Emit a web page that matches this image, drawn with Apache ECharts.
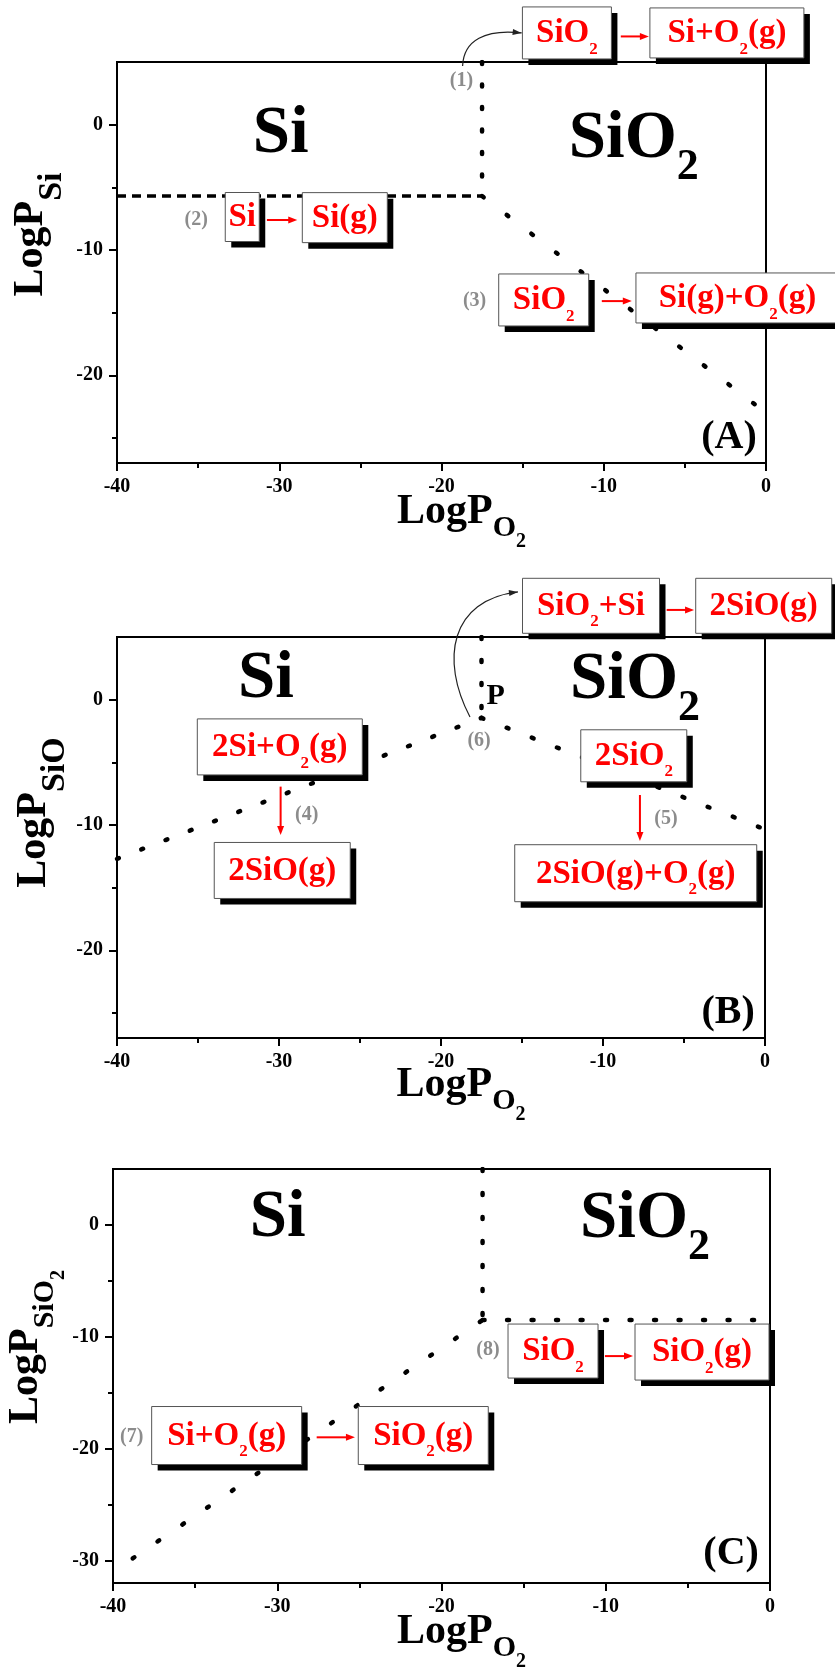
<!DOCTYPE html>
<html>
<head>
<meta charset="utf-8">
<script src="https://cdn.jsdelivr.net/npm/echarts@6/dist/echarts.min.js"></script>
<style>
  html, body { margin: 0; padding: 0; background: #fff; }
  #chart { width: 835px; height: 1670px; }
</style>
</head>
<body>
<div id="chart"></div>
<script>
// ---- data (LogP_O2, LogP_x) ----
const yMajorAB = [-20, -10, 0];
const yMinorAB = [-25, -15, -5];
const yMajorC = [-30, -20, -10, 0];
const yMinorC = [-25, -15, -5];
const yMins = [-27, -27, -32];

// (A) Si - O2 : LogP_Si
const siO2BoundaryA = [[-17.5, 5], [-17.5, -5.7]];
const siGasA = [[-40, -5.7], [-17.5, -5.7]];
const sio2GasA = [[-17.5, -5.7], [0, -23]];

// (B) LogP_SiO
const siToSioB = [[-40, -12.7], [-17.5, -1.45]];
const sio2ToSioB = [[-17.5, -1.45], [0, -10.35]];
const siO2BoundaryB = [[-17.5, 5], [-17.5, -1.45]];

// (C) LogP_SiO2
const siO2BoundaryC = [[-17.5, 5], [-17.5, -8.5]];
const sio2GasC = [[-17.5, -8.5], [0, -8.5]];
const siToSio2C = [[-38.8, -29.8], [-17.5, -8.5]];

// reaction boxes: panel, data position of centre, text
const boxes = [
  { g: 0, at: [-12.27, 7.32], w: 89, h: 52, t: '{m|SiO}{s|2}' },
  { g: 0, at: [-2.41, 7.32], w: 154, h: 50, t: '{m|Si+O}{s|2}{m|(g)}' },
  { g: 0, at: [-32.28, -7.37], w: 34, h: 49, t: '{m|Si}' },
  { g: 0, at: [-25.96, -7.42], w: 85, h: 50, t: '{m|Si(g)}' },
  { g: 0, at: [-13.70, -13.99], w: 90, h: 52, t: '{m|SiO}{s|2}' },
  { g: 0, at: [-1.76, -13.83], w: 203, h: 50, t: '{m|Si(g)+O}{s|2}{m|(g)}' },
  { g: 1, at: [-10.74, 7.49], w: 137, h: 55, t: '{m|SiO}{s|2}{m|+Si}' },
  { g: 1, at: [-0.08, 7.49], w: 136, h: 55, t: '{m|2SiO(g)}' },
  { g: 1, at: [-29.95, -3.77], w: 165, h: 56, t: '{m|2Si+O}{s|2}{m|(g)}' },
  { g: 1, at: [-29.80, -13.63], w: 136, h: 56, t: '{m|2SiO(g)}' },
  { g: 1, at: [-8.10, -4.48], w: 106, h: 52, t: '{m|2SiO}{s|2}' },
  { g: 1, at: [-7.98, -13.85], w: 242, h: 57, t: '{m|2SiO(g)+O}{s|2}{m|(g)}' },
  { g: 2, at: [-33.08, -18.82], w: 150, h: 58, t: '{m|Si+O}{s|2}{m|(g)}' },
  { g: 2, at: [-21.11, -18.82], w: 130, h: 58, t: '{m|SiO}{s|2}{m|(g)}' },
  { g: 2, at: [-13.21, -11.27], w: 90, h: 54, t: '{m|SiO}{s|2}' },
  { g: 2, at: [-4.14, -11.36], w: 134, h: 56, t: '{m|SiO}{s|2}{m|(g)}' }
];

// red reaction arrows: panel, from, to
const redArrows = [
  { g: 0, from: [-8.95, 7.04], to: [-7.22, 7.04] },
  { g: 0, from: [-30.76, -7.61], to: [-28.89, -7.61] },
  { g: 0, from: [-10.12, -14.08], to: [-8.27, -14.08] },
  { g: 1, from: [-6.07, 7.16], to: [-4.38, 7.16] },
  { g: 1, from: [-29.9, -6.94], to: [-29.9, -10.8] },
  { g: 1, from: [-7.72, -7.61], to: [-7.72, -11.28] },
  { g: 2, from: [-27.6, -18.98], to: [-25.27, -18.98] },
  { g: 2, from: [-10.05, -11.72], to: [-8.34, -11.72] }
];

// reaction numbers
const tags = [
  { g: 0, at: [-18.77, 3.49], t: '(1)' },
  { g: 0, at: [-35.12, -7.61], t: '(2)' },
  { g: 0, at: [-17.96, -14.08], t: '(3)' },
  { g: 1, at: [-28.29, -9.2], t: '(4)' },
  { g: 1, at: [-6.11, -9.52], t: '(5)' },
  { g: 1, at: [-17.65, -3.3], t: '(6)' },
  { g: 2, at: [-38.86, -18.95], t: '(7)' },
  { g: 2, at: [-17.17, -11.18], t: '(8)' }
];

// curved pointers from a reaction number to its box (start, ctrl1, ctrl2, end)
const curves = [
  { g: 0, pts: [[-18.70, 4.68], [-18.64, 6.76], [-17.28, 7.64], [-15.06, 7.32]] },
  { g: 1, pts: [[-18.21, -1.38], [-20.06, 3.17], [-19.44, 7.96], [-15.25, 8.6]] }
];

// phase field names: centre x, baseline y
const phaseLabels = [
  { g: 0, at: [-29.91, -2.58], t: '{m|Si}' },
  { g: 0, at: [-8.15, -3.01], t: '{m|SiO}{s|2}' },
  { g: 1, at: [-30.8, -0.26], t: '{m|Si}' },
  { g: 1, at: [-8.02, -0.29], t: '{m|SiO}{s|2}' },
  { g: 2, at: [-29.98, -1.5], t: '{m|Si}' },
  { g: 2, at: [-7.61, -1.55], t: '{m|SiO}{s|2}' }
];
const pointP = { g: 1, at: [-16.62, 0.3], t: 'P' };
const panelNames = [
  { g: 0, at: [-2.28, -25.0], t: '(A)' },
  { g: 1, at: [-2.28, -25.0], t: '(B)' },
  { g: 2, at: [-2.37, -29.41], t: '(C)' }
];

const yTitles = ['{m|LogP}{s|Si}', '{m|LogP}{s|SiO}', '{m|LogP}{c|SiO}{cc|2}'];

// ---- styling ----
const FONT = '"Liberation Serif", "Times New Roman", Times, serif';
const RED = '#ff0000';

function tok(size, pad, color) {
  return {
    fontSize: size, lineHeight: size, fontFamily: FONT, fontWeight: 'bold',
    color: color, fill: color, verticalAlign: 'top', padding: [pad, 0, 0, 0]
  };
}
// rich text with sub / sub-sub scripts; d1, d2 = baseline drop in px
function rich(main, sub, subsub, d1, d2, color) {
  return {
    m: tok(main, 0, color),
    s: tok(sub, 0.84 * (main - sub) + d1, color),
    ss: tok(subsub, 0.84 * (main - subsub) + d2, color)
  };
}

const gridBoxes = [
  { left: 117, top: 62, width: 649, height: 401 },
  { left: 117, top: 637, width: 648, height: 401 },
  { left: 113, top: 1169, width: 657, height: 414 }
];
const frame = {
  show: true, borderColor: '#000', borderWidth: 2, backgroundColor: 'transparent',
  containLabel: false, outerBoundsMode: 'none'
};
// grids 0-2 carry the plots, grids 3-5 sit on top and only carry minor y ticks
const grids = gridBoxes.map(g => Object.assign({}, g, frame))
  .concat(gridBoxes.map(g => Object.assign({}, g, { show: false, containLabel: false, outerBoundsMode: 'none' })));

const xNameGap = [28, 26, 28];
const yMajor = [yMajorAB, yMajorAB, yMajorC];
const yMinor = [yMinorAB, yMinorAB, yMinorC];

const axisLineStyle = { color: '#000', width: 2 };
const tickLabel = { color: '#000', fontFamily: FONT, fontWeight: 'bold', fontSize: 20 };

const xAxes = [];
const yAxes = [];
[0, 1, 2].forEach(g => {
  xAxes.push({
    type: 'value', gridIndex: g, min: -40, max: 0, interval: 10,
    axisLine: { onZero: false, lineStyle: axisLineStyle },
    axisTick: { length: 8, lineStyle: axisLineStyle },
    minorTick: { show: true, splitNumber: 2, length: 5, lineStyle: axisLineStyle },
    splitLine: { show: false },
    axisLabel: Object.assign({ margin: 14 }, tickLabel),
    name: '{m|LogP}{s|O}{ss|2}', nameLocation: 'middle', nameGap: xNameGap[g],
    nameMoveOverlap: false,
    nameTextStyle: { rich: rich(42, 30, 20, 12, 22, '#000'), padding: [0, 0, 0, 40] }
  });
  yAxes.push({
    type: 'value', gridIndex: g, min: yMins[g], max: 5, position: 'left',
    axisLine: { onZero: false, lineStyle: axisLineStyle },
    axisTick: { length: 8, lineStyle: axisLineStyle, customValues: yMajor[g] },
    axisLabel: Object.assign({ margin: 14, customValues: yMajor[g] }, tickLabel),
    splitLine: { show: false }
  });
});
[0, 1, 2].forEach(g => {
  xAxes.push({
    type: 'value', gridIndex: g + 3, min: -40, max: 0, show: false,
    axisLine: { onZero: false }
  });
  yAxes.push({
    type: 'value', gridIndex: g + 3, min: yMins[g], max: 5, position: 'left',
    axisLine: { show: false, onZero: false },
    axisTick: { length: 5, lineStyle: axisLineStyle, customValues: yMinor[g] },
    axisLabel: { show: false },
    splitLine: { show: false }
  });
});

function boundary(g, data, type, width, cap) {
  return {
    type: 'line', xAxisIndex: g, yAxisIndex: g, data: data,
    symbol: 'none', silent: true, animation: false,
    lineStyle: { color: '#000', width: width, type: type, cap: cap }
  };
}

const series = [
  boundary(0, siO2BoundaryA, [2, 20.5], 4.5, 'round'),
  boundary(0, siGasA, [9, 6], 3.5, 'butt'),
  boundary(0, sio2GasA, [2, 29], 4.5, 'round'),
  boundary(1, siToSioB, [2, 24], 4.5, 'round'),
  boundary(1, sio2ToSioB, [2, 25], 4.5, 'round'),
  boundary(1, siO2BoundaryB, [2, 21], 4.5, 'round'),
  boundary(2, siO2BoundaryC, [2, 22], 4.5, 'round'),
  boundary(2, sio2GasC, [2, 22.5], 4.5, 'round'),
  boundary(2, siToSio2C, [2, 28], 4.5, 'round')
];

const chart = echarts.init(document.getElementById('chart'), null, { renderer: 'canvas' });
chart.setOption({
  animation: false,
  backgroundColor: '#fff',
  grid: grids,
  xAxis: xAxes,
  yAxis: yAxes,
  series: series
});

// ---- annotations, placed through the axes ----
function px(g, p) {
  return chart.convertToPixel({ xAxisIndex: g, yAxisIndex: g }, p);
}

function arrowHead(tip, dir, len, half, color) {
  const L = Math.hypot(dir[0], dir[1]);
  const ux = dir[0] / L, uy = dir[1] / L;
  const bx = tip[0] - ux * len, by = tip[1] - uy * len;
  return {
    type: 'polygon', z: 102,
    shape: { points: [tip, [bx - uy * half, by + ux * half], [bx + uy * half, by - ux * half]] },
    style: { fill: color }
  };
}

const BOX_FONT = 33;
const SHADOW = 6;
const boxRich = rich(BOX_FONT, 17, 12, 10, 14, RED);
const bigRich = rich(67, 44, 30, 20, 28, '#000');
const Y_MAIN = 42;
const yTitleRich = Object.assign(rich(Y_MAIN, 34, 22, 18, 28, '#000'), {
  c: tok(30, 0.84 * (Y_MAIN - 30) + 15, '#000'),
  cc: tok(20, 0.84 * (Y_MAIN - 20) + 25, '#000')
});
const yTitleGap = [107, 104, 108];
const yTitleRaise = [28, 25, 29];
const els = [];

// rotated y-axis titles
[0, 1, 2].forEach(g => {
  const top = px(g, [-40, 5]), bottom = px(g, [-40, yMins[g]]);
  els.push({
    type: 'text', z: 50, x: top[0] - yTitleGap[g], y: (top[1] + bottom[1]) / 2 - yTitleRaise[g],
    rotation: Math.PI / 2,
    style: {
      text: yTitles[g], rich: yTitleRich, fill: '#000',
      align: 'center', textAlign: 'center', verticalAlign: 'top', textVerticalAlign: 'top'
    }
  });
});

boxes.forEach(b => {
  const c = px(b.g, b.at);
  const x0 = c[0] - b.w / 2, y0 = c[1] - b.h / 2;
  els.push({
    type: 'rect', z: 100,
    shape: { x: x0 + SHADOW, y: y0 + SHADOW, width: b.w, height: b.h },
    style: { fill: '#000' }
  });
  els.push({
    type: 'rect', z: 100,
    shape: { x: x0, y: y0, width: b.w, height: b.h },
    style: { fill: '#fff', stroke: '#555', lineWidth: 1 }
  });
  els.push({
    type: 'text', z: 101, x: c[0], y: c[1] + 12 - 0.84 * BOX_FONT,
    style: {
      text: b.t, rich: boxRich, fill: RED,
      align: 'center', textAlign: 'center', verticalAlign: 'top', textVerticalAlign: 'top'
    }
  });
});

redArrows.forEach(a => {
  const p0 = px(a.g, a.from), p1 = px(a.g, a.to);
  const d = [p1[0] - p0[0], p1[1] - p0[1]];
  const L = Math.hypot(d[0], d[1]);
  const base = [p1[0] - d[0] / L * 8, p1[1] - d[1] / L * 8];
  els.push({
    type: 'line', z: 102,
    shape: { x1: p0[0], y1: p0[1], x2: base[0], y2: base[1] },
    style: { stroke: RED, lineWidth: 2 }
  });
  els.push(arrowHead(p1, d, 9, 3.5, RED));
});

curves.forEach(c => {
  const p = c.pts.map(q => px(c.g, q));
  els.push({
    type: 'bezierCurve', z: 102,
    shape: {
      x1: p[0][0], y1: p[0][1], cpx1: p[1][0], cpy1: p[1][1],
      cpx2: p[2][0], cpy2: p[2][1], x2: p[3][0], y2: p[3][1]
    },
    style: { stroke: '#222', lineWidth: 1.2, fill: null }
  });
  els.push(arrowHead(p[3], [p[3][0] - p[2][0], p[3][1] - p[2][1]], 9, 3, '#222'));
});

tags.forEach(t => {
  const c = px(t.g, t.at);
  els.push({
    type: 'text', z: 103, x: c[0], y: c[1],
    style: {
      text: t.t, fill: '#8c8c8c', fontFamily: FONT, fontWeight: 'bold', fontSize: 20,
      align: 'center', textAlign: 'center', verticalAlign: 'middle', textVerticalAlign: 'middle'
    }
  });
});

phaseLabels.forEach(l => {
  const c = px(l.g, l.at);
  els.push({
    type: 'text', z: 99, x: c[0], y: c[1] - 0.84 * 67,
    style: {
      text: l.t, rich: bigRich, fill: '#000',
      align: 'center', textAlign: 'center', verticalAlign: 'top', textVerticalAlign: 'top'
    }
  });
});

[pointP].concat(panelNames).forEach(l => {
  const c = px(l.g, l.at);
  els.push({
    type: 'text', z: 99, x: c[0], y: c[1],
    style: {
      text: l.t, fill: '#000', fontFamily: FONT, fontWeight: 'bold',
      fontSize: l.t === 'P' ? 30 : 40,
      align: 'center', textAlign: 'center', verticalAlign: 'middle', textVerticalAlign: 'middle'
    }
  });
});

chart.setOption({ graphic: els });
</script>
</body>
</html>
